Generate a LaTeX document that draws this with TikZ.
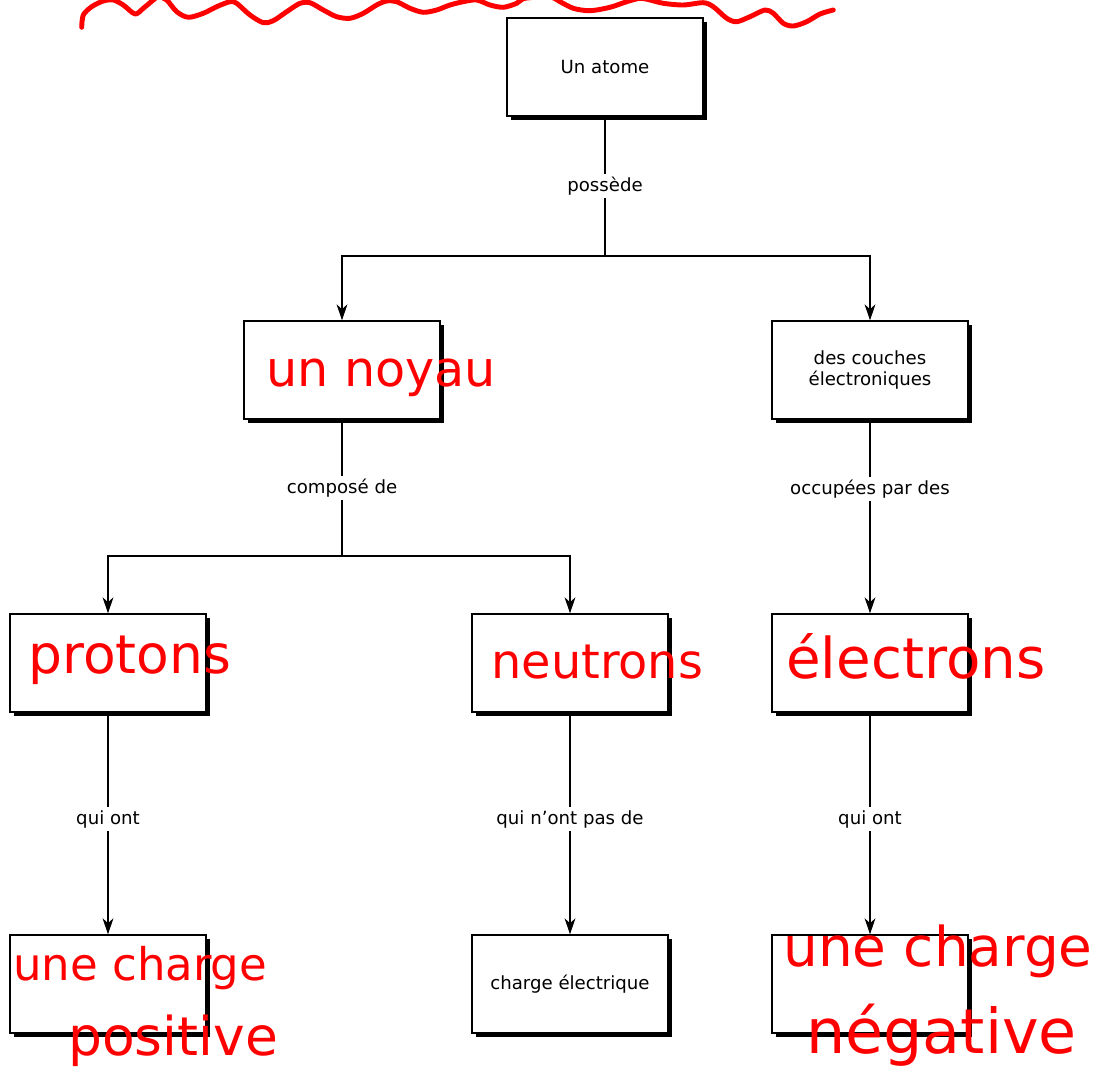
\documentclass[tikz,border=0pt]{standalone}
\usepackage{fontspec}
\setmainfont{DejaVu Sans}
\usetikzlibrary{shadows,arrows.meta}
\tikzset{every node/.style={font=\fontsize{12.9}{15.5}\selectfont}}
\tikzset{concept/.style={draw,line width=0.9pt,fill=white,minimum width=4.9cm,
    minimum height=2.45cm,align=center,
    drop shadow={shadow xshift=0.09cm,shadow yshift=-0.09cm,opacity=1,fill=black}},
  link/.style={line width=0.9pt},
  tip/.style={-{Stealth[length=0.4cm,width=0.27cm,inset=0.12cm]}},
  lab/.style={fill=white,inner sep=2pt},
  scrawl/.style={red,anchor=base west,inner sep=0pt}}
\newcommand{\hand}[1]{\fontsize{#1}{#1}\selectfont}

\begin{document}
\begin{tikzpicture}[x=0.025cm,y=-0.025cm]
  \useasboundingbox (0,0) rectangle (1111,1091);
  % the boxes
  \node[concept] (atome) at (605,67) {Un atome};
  \node[concept] (noyau) at (342,370) {};
  \node[concept] (couches) at (870,370) {des couches\\électroniques};
  \node[concept] (protons) at (108,663) {};
  \node[concept] (neutrons) at (570,663) {};
  \node[concept] (electrons) at (870,663) {};
  \node[concept] (positive) at (108,984) {};
  \node[concept] (neutre) at (570,984) {charge électrique};
  \node[concept] (negative) at (870,984) {};
  \coordinate (fork1) at (605,256);
  \coordinate (fork2) at (342,556);
  % the links
  \draw[link] (atome) -- node[lab]{possède} (fork1);
  \foreach \t in {noyau,couches} \draw[link,tip] (fork1) -| (\t);
  \draw[link] (noyau) -- node[lab]{composé de} (fork2);
  \foreach \t in {protons,neutrons} \draw[link,tip] (fork2) -| (\t);
  \draw[link,tip] (couches) -- node[lab,pos=0.36]{occupées par des} (electrons);
  \draw[link,tip] (protons) -- node[lab,pos=0.48]{qui ont} (positive);
  \draw[link,tip] (neutrons) -- node[lab,pos=0.48]{qui n’ont pas de} (neutre);
  \draw[link,tip] (electrons) -- node[lab,pos=0.48]{qui ont} (negative);
  % handwritten answers
  \node[scrawl,font=\hand{35}] (tnoyau) at (266,386) {un noyau};
  \node[scrawl,font=\hand{38}] (tprotons) at (28,673) {protons};
  \node[scrawl,font=\hand{34}] (tneutrons) at (491,678) {neutrons};
  \node[scrawl,font=\hand{40}] (telectrons) at (786,678) {électrons};
  \node[scrawl,font=\hand{32}] (tpos1) at (13,980) {une charge};
  \node[scrawl,font=\hand{38}] (tpos2) at (68,1055) {positive};
  \node[scrawl,font=\hand{39}] (tneg1) at (783,966) {une charge};
  \node[scrawl,font=\hand{44}] (tneg2) at (806,1053) {négative};
  % scribble over the title
  \begin{scope}
    \clip (0,0) rectangle (1111,1091);
    \draw[red,line width=3.5pt,line cap=round,line join=round] plot[smooth] coordinates {
      (81.7,27.3) (83.3,15) (91.7,6.7) (103.3,1) (113.3,0) (123.3,5) (135,14)
      (143.3,8.3) (153.3,0) (158.3,-3.3) (166.7,0) (176.7,11.7) (188.3,17.3)
      (203.3,13.3) (216.7,6.7) (230,1.7) (236.7,3.3) (250,15) (263.3,22.7)
      (273.3,20.7) (286.7,11.7) (300,3.3) (310,2.7) (323.3,10) (336.7,16.7)
      (350,18.3) (363.3,13.3) (376.7,5) (386.7,1) (396.7,1.7) (410,8.3)
      (423.3,12.3) (436.7,10) (450,5) (463.3,1.7) (476.7,0) (490,5) (503.3,7.3)
      (516.7,3.3) (525,-1.7) (550,-3) (560,1.7) (573.3,8.3) (590,10.7)
      (610,7.3) (626.7,1.7) (640,-1.7) (650,0) (663.3,3.3) (683.3,5)
      (703.3,2.7) (713.3,6.7) (726.7,18.3) (736.7,21.7) (750,16.7) (765,10)
      (773.3,13.3) (783.3,23.3) (793.3,26) (806.7,21.7) (820,14) (833.3,10)};
  \end{scope}
\end{tikzpicture}
\end{document}
